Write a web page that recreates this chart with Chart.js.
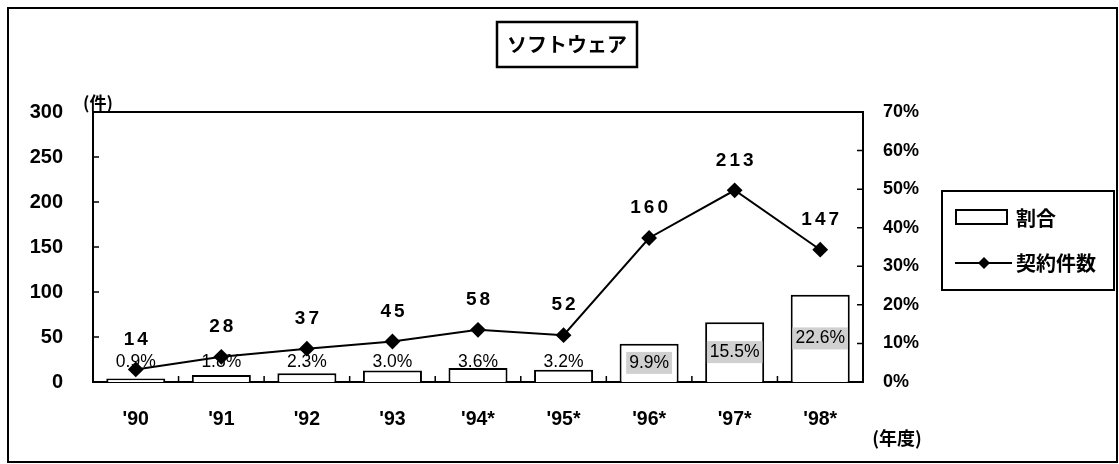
<!DOCTYPE html>
<html><head><meta charset="utf-8">
<script src="https://cdn.jsdelivr.net/npm/chart.js@4"></script>
<style>html,body{margin:0;padding:0;background:#fff;}canvas{display:block;}</style>
</head><body>
<canvas id="c" width="1119" height="464"></canvas>
<script>
const categories = ["'90","'91","'92","'93","'94*","'95*","'96*","'97*","'98*"];
const contractCounts = [14, 28, 37, 45, 58, 52, 160, 213, 147];
const shareValues = [0.9, 1.8, 2.3, 3.0, 3.6, 3.2, 9.9, 15.5, 22.6];
const countTicks = [0, 50, 100, 150, 200, 250, 300];
const shareTicks = [0, 10, 20, 30, 40, 50, 60, 70];
const titleText = 'ソフトウェア';
const countUnit = '(件)';
const yearUnit = '(年度)';
const shareLabel = '割合';
const countLabel = '契約件数';

const LAT = '"Liberation Sans", Arial, sans-serif';
const JP = '"Noto Sans CJK JP", "Noto Sans", sans-serif';

function drawSpaced(ctx, text, cx, cy, spacing) {
  const chars = [...text];
  const widths = chars.map(c => ctx.measureText(c).width);
  const total = widths.reduce((a, b) => a + b, 0) + spacing * (chars.length - 1);
  let x = cx - total / 2;
  ctx.textAlign = 'left';
  chars.forEach((c, i) => { ctx.fillText(c, x, cy); x += widths[i] + spacing; });
}

const deco = {
  id: 'deco',
  afterDatasetDraw(chart, args) {
    if (args.index !== 0) return;
    const ctx = chart.ctx, y1 = chart.scales.y1;
    const meta = chart.getDatasetMeta(0);
    const zero = y1.getPixelForValue(0);
    ctx.save();
    ctx.font = '17.5px ' + LAT;
    ctx.textBaseline = 'middle';
    ctx.textAlign = 'center';
    meta.data.forEach((bar, i) => {
      const txt = shareValues[i].toFixed(1) + '%';
      const top = y1.getPixelForValue(shareValues[i]);
      const h = zero - top;
      let cy;
      if (h > 24) {
        cy = (top + zero) / 2;
        const w = ctx.measureText(txt).width;
        ctx.fillStyle = '#d0d0d0';
        ctx.fillRect(bar.x - w / 2 - 3, cy - 11, w + 6, 22);
      } else {
        cy = zero - 20;
      }
      ctx.fillStyle = '#000';
      ctx.fillText(txt, bar.x, cy);
    });
    ctx.restore();
  },
  afterDatasetsDraw(chart) {
    const ctx = chart.ctx, ca = chart.chartArea;
    const x = chart.scales.x, y = chart.scales.y, y1 = chart.scales.y1;
    ctx.save();
    ctx.strokeStyle = '#000';
    ctx.lineWidth = 2;
    ctx.beginPath();
    ctx.moveTo(ca.left - 1, ca.top); ctx.lineTo(ca.right + 1, ca.top);
    ctx.stroke();
    ctx.lineWidth = 1.5;
    ctx.beginPath();
    countTicks.forEach(v => { const py = y.getPixelForValue(v); ctx.moveTo(ca.left, py); ctx.lineTo(ca.left + 6, py); });
    shareTicks.forEach(v => { const py = y1.getPixelForValue(v); ctx.moveTo(ca.right, py); ctx.lineTo(ca.right - 6, py); });
    for (let i = 1; i < categories.length; i++) {
      const px = (x.getPixelForValue(i - 1) + x.getPixelForValue(i)) / 2;
      ctx.moveTo(px, ca.bottom); ctx.lineTo(px, ca.bottom - 6);
    }
    ctx.stroke();
    // count labels
    const meta = chart.getDatasetMeta(1);
    ctx.fillStyle = '#000';
    ctx.font = 'bold 19px ' + LAT;
    ctx.textBaseline = 'middle';
    meta.data.forEach((pt, i) => {
      drawSpaced(ctx, String(contractCounts[i]), pt.x, pt.y - 30, 3);
    });
    ctx.restore();
  },
  afterDraw(chart) {
    const ctx = chart.ctx;
    ctx.save();
    ctx.strokeStyle = '#000';
    ctx.fillStyle = '#000';
    // outer frame
    ctx.lineWidth = 2;
    ctx.strokeRect(8, 8, 1109, 454);
    // title box
    ctx.lineWidth = 2.5;
    ctx.strokeRect(497, 22, 140, 45);
    ctx.font = 'bold 20px ' + JP;
    ctx.textAlign = 'center';
    ctx.textBaseline = 'middle';
    ctx.fillText(titleText, 567, 44);
    // units
    ctx.font = 'bold 17px ' + JP;
    ctx.fillText(countUnit, 98, 103);
    ctx.font = 'bold 18px ' + JP;
    ctx.fillText(yearUnit, 897, 438);
    // legend
    ctx.lineWidth = 2;
    ctx.strokeRect(942, 191, 172, 99);
    ctx.fillStyle = '#fff';
    ctx.fillRect(956, 210, 51, 14);
    ctx.strokeRect(956, 210, 51, 14);
    ctx.beginPath();
    ctx.moveTo(955, 263); ctx.lineTo(1012, 263);
    ctx.stroke();
    ctx.fillStyle = '#000';
    ctx.beginPath();
    ctx.moveTo(984, 257); ctx.lineTo(990, 263); ctx.lineTo(984, 269); ctx.lineTo(978, 263);
    ctx.closePath(); ctx.fill();
    ctx.font = 'bold 20px ' + JP;
    ctx.textAlign = 'left';
    ctx.fillText(shareLabel, 1016, 218);
    ctx.fillText(countLabel, 1016, 263);
    ctx.restore();
  }
};

new Chart(document.getElementById('c'), {
  data: {
    labels: categories,
    datasets: [
      { type: 'bar', label: shareLabel, data: shareValues, yAxisID: 'y1', order: 2,
        backgroundColor: '#fff', borderColor: '#000', borderWidth: 2,
        barPercentage: 0.69, categoryPercentage: 1 },
      { type: 'line', label: countLabel, data: contractCounts, yAxisID: 'y', order: 1,
        borderColor: '#000', borderWidth: 2, backgroundColor: '#000',
        pointStyle: 'rectRot', pointRadius: 6.5, pointBackgroundColor: '#000', pointBorderColor: '#000',
        tension: 0, fill: false }
    ]
  },
  options: {
    responsive: false,
    animation: false,
    devicePixelRatio: 1,
    layout: { padding: { top: 112, left: 0, right: 0, bottom: 0 } },
    plugins: { legend: { display: false }, tooltip: { enabled: false }, title: { display: false } },
    scales: {
      x: {
        type: 'category', offset: true,
        grid: { display: false, drawTicks: false },
        border: { display: true, color: '#000', width: 2 },
        ticks: { padding: 26, color: '#000', font: { family: LAT, size: 19.5, weight: 'bold' } },
        afterFit(s) { s.height = 82; }
      },
      y: {
        position: 'left', min: 0, max: 300,
        afterBuildTicks(s) { s.ticks = countTicks.map(v => ({ value: v })); },
        grid: { display: false, drawTicks: false },
        border: { display: true, color: '#000', width: 2 },
        ticks: { padding: 30, color: '#000', font: { family: LAT, size: 20, weight: 'bold' } },
        afterFit(s) { s.width = 93; }
      },
      y1: {
        position: 'right', min: 0, max: 70,
        afterBuildTicks(s) { s.ticks = shareTicks.map(v => ({ value: v })); },
        grid: { display: false, drawTicks: false },
        border: { display: true, color: '#000', width: 2 },
        ticks: { padding: 20, color: '#000', callback: v => v + '%', font: { family: LAT, size: 18, weight: 'bold' } },
        afterFit(s) { s.width = 256; }
      }
    }
  },
  plugins: [deco]
});
</script>
</body></html>
